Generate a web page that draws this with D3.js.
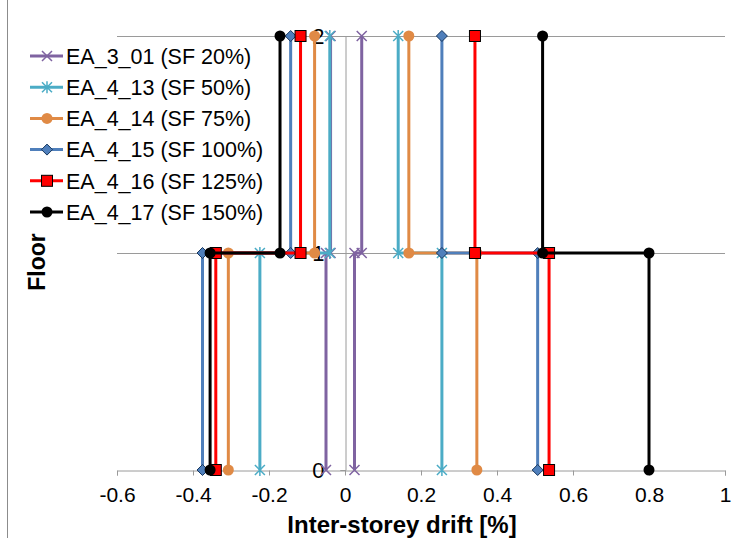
<!DOCTYPE html>
<html>
<head>
<meta charset="utf-8">
<script src="https://cdn.jsdelivr.net/npm/d3@7"></script>
<style>
  body { margin: 0; background: #fff; }
  svg { display: block; font-family: "Liberation Sans", Arial, sans-serif; }
</style>
</head>
<body>
<div id="chart"></div>
<script>
// --- data ---
const seriesNames = [
  'EA_3_01 (SF 20%)', 'EA_4_13 (SF 50%)', 'EA_4_14 (SF 75%)',
  'EA_4_15 (SF 100%)', 'EA_4_16 (SF 125%)', 'EA_4_17 (SF 150%)',
];
// storey drift [storey 1, storey 2], positive and negative envelopes
const posDrift = [
  [0.025, 0.044], [0.255, 0.140], [0.347, 0.168],
  [0.507, 0.255], [0.537, 0.342], [0.800, 0.520],
];
const negDrift = [
  [-0.050, -0.038], [-0.224, -0.040], [-0.307, -0.080],
  [-0.375, -0.143], [-0.340, -0.117], [-0.355, -0.171],
];
const xTicks = [-0.6, -0.4, -0.2, 0, 0.2, 0.4, 0.6, 0.8, 1];
const yTicks = [0, 1, 2];

// --- styles ---
const colors = ['#7f63a1', '#4bacc6', '#e08a45', '#4f7fbb', '#ff0000', '#000000'];
const markers = ['x', 'star', 'circle', 'diamond', 'square', 'circle'];

const width = 738, height = 538;
const svg = d3.select('#chart').append('svg')
  .attr('width', width).attr('height', height);

const x = d3.scaleLinear().domain([-0.6, 1]).range([117, 725]);
const y = d3.scaleLinear().domain([0, 2]).range([470, 36]);

// chart frame (only the left edge is visible)
svg.append('line')
  .attr('x1', 7.5).attr('x2', 7.5).attr('y1', 0).attr('y2', height)
  .attr('stroke', '#8c8c8c').attr('stroke-width', 1);

// horizontal gridlines
svg.append('g').selectAll('line').data(yTicks.filter(d => d > 0)).join('line')
  .attr('x1', x(-0.6)).attr('x2', x(1))
  .attr('y1', d => Math.round(y(d)) + 0.5).attr('y2', d => Math.round(y(d)) + 0.5)
  .attr('stroke', '#9a9a9a').attr('stroke-width', 1);

// x axis
const fmtX = d => (d === 0 || d === 1) ? String(d) : d3.format('.1f')(d).replace('\u2212', '-');
const xAxis = svg.append('g')
  .attr('transform', `translate(0,${Math.round(y(0)) + 0.5})`)
  .call(d3.axisBottom(x).tickValues(xTicks).tickSize(5).tickPadding(12).tickFormat(fmtX));
xAxis.select('.domain').attr('stroke', '#9a9a9a');
xAxis.selectAll('.tick line').attr('stroke', '#9a9a9a');
xAxis.selectAll('.tick text')
  .attr('font-size', 21).attr('fill', '#000')
  .attr('font-family', '"Liberation Sans", Arial, sans-serif');

// y axis at x = 0
const yAxis = svg.append('g')
  .attr('transform', `translate(${Math.round(x(0)) + 0.5},0)`)
  .call(d3.axisLeft(y).tickValues(yTicks).tickSize(5).tickPadding(16).tickFormat(d3.format('d')));
yAxis.select('.domain').attr('stroke', '#9a9a9a');
yAxis.selectAll('.tick line').attr('stroke', '#9a9a9a');
yAxis.selectAll('.tick text')
  .attr('font-size', 22).attr('fill', '#000')
  .attr('font-family', '"Liberation Sans", Arial, sans-serif');

// markers
function drawMarker(g, type, color, cx, cy) {
  if (type === 'circle') {
    g.append('circle').attr('cx', cx).attr('cy', cy).attr('r', 5.5).attr('fill', color);
  } else if (type === 'square') {
    g.append('rect').attr('x', cx - 5.5).attr('y', cy - 5.5).attr('width', 11).attr('height', 11)
      .attr('fill', color).attr('stroke', '#000').attr('stroke-width', 1);
  } else if (type === 'diamond') {
    const s = 5.5;
    g.append('path').attr('d', `M${cx},${cy - s}L${cx + s},${cy}L${cx},${cy + s}L${cx - s},${cy}Z`)
      .attr('fill', color).attr('stroke', '#17375e').attr('stroke-width', 1);
  } else {
    const s = 5;
    let d = `M${cx - s},${cy - s}L${cx + s},${cy + s}M${cx + s},${cy - s}L${cx - s},${cy + s}`;
    if (type === 'star') d += `M${cx},${cy - s - 1}L${cx},${cy + s + 1}`;
    g.append('path').attr('d', d).attr('stroke', color).attr('stroke-width', 1.5).attr('fill', 'none');
  }
}

const line = d3.line().x(d => x(d[0])).y(d => y(d[1]));
const profile = dr => [[dr[0], 0], [dr[0], 1], [dr[1], 1], [dr[1], 2]];

seriesNames.forEach((name, i) => {
  const g = svg.append('g');
  [posDrift[i], negDrift[i]].forEach(dr => {
    const pts = profile(dr);
    g.append('path').attr('d', line(pts))
      .attr('fill', 'none').attr('stroke', colors[i]).attr('stroke-width', 3)
      .attr('stroke-linejoin', 'round');
    pts.forEach(p => drawMarker(g, markers[i], colors[i], x(p[0]), y(p[1])));
  });
});

// legend
const legend = svg.append('g');
seriesNames.forEach((name, i) => {
  const ly = 56 + i * 31.2;
  legend.append('line').attr('x1', 30).attr('x2', 63).attr('y1', ly).attr('y2', ly)
    .attr('stroke', colors[i]).attr('stroke-width', 3);
  drawMarker(legend, markers[i], colors[i], 47, ly);
  legend.append('text').attr('x', 66).attr('y', ly).attr('dy', '0.36em')
    .attr('font-size', 21.5).attr('fill', '#000').text(name);
});

// axis titles
svg.append('text').attr('x', 402).attr('y', 533)
  .attr('text-anchor', 'middle').attr('font-size', 24).attr('font-weight', 'bold')
  .text('Inter-storey drift [%]');
svg.append('text').attr('transform', 'translate(45,262) rotate(-90)')
  .attr('text-anchor', 'middle').attr('font-size', 23).attr('font-weight', 'bold')
  .text('Floor');
</script>
</body>
</html>
